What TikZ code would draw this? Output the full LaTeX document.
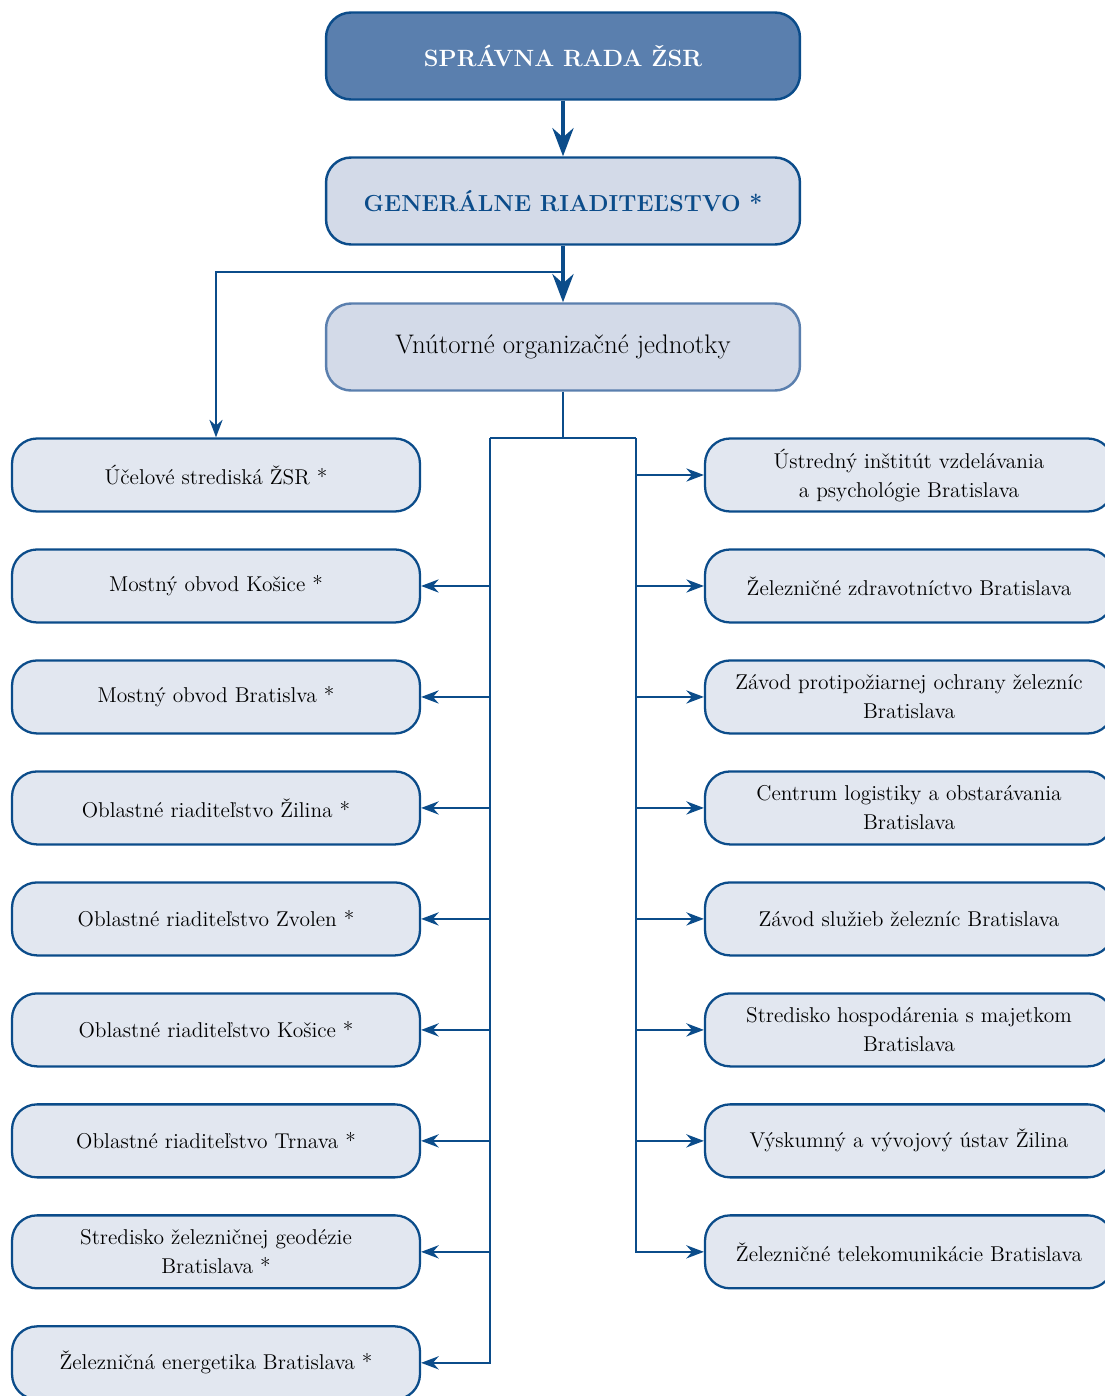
\documentclass[tikz,border=0pt]{standalone}
\usetikzlibrary{positioning,arrows.meta}

\definecolor{zsrDark}{HTML}{0B4C8A}
\definecolor{zsrMid}{HTML}{5A7FAE}
\definecolor{zsrPale}{HTML}{D3DAE8}
\definecolor{zsrLight}{HTML}{E2E7F0}

\tikzset{
  headBox/.style={draw=zsrDark, line width=1.4pt, rounded corners=0.5cm,
    minimum width=9.48cm, minimum height=1.74cm, align=center},
  unitBox/.style={draw=zsrDark, line width=1.3pt, fill=zsrLight, rounded corners=0.5cm,
    minimum width=8.16cm, minimum height=1.46cm, align=center,
    font=\fontsize{12.2}{16.5}\selectfont},
  thickArrow/.style={draw=zsrDark, line width=2.4pt, -{Stealth[length=16pt,width=12pt]}},
  thinLine/.style={draw=zsrDark, line width=1.2pt},
  thinArrow/.style={thinLine, -{Stealth[length=10pt,width=7.5pt]}},
}

\begin{document}
\begin{tikzpicture}[x=0.02cm, y=-0.02cm, node distance=2.22cm]
	\useasboundingbox (0,0) rectangle (1105,1396);

	% top of the structure
	\node[headBox, fill=zsrMid, text=white, font=\fontsize{13.4}{16}\selectfont\bfseries] (spravna) at (563,56) {SPRÁVNA RADA ŽSR};
	\node[headBox, fill=zsrPale, text=zsrDark, font=\fontsize{13.2}{16}\selectfont\bfseries] (generalne) at (563,201) {GENERÁLNE RIADITEĽSTVO *};
	\node[headBox, fill=zsrPale, draw=zsrMid, font=\fontsize{15.3}{18}\selectfont] (vnutorne) at (563,347) {Vnútorné organizačné jednotky};

	% left column
	\node[unitBox] (ucelove) at (216,475) {Účelové strediská ŽSR *};
	\node[unitBox, below of=ucelove] (mostyKosice) {Mostný obvod Košice *};
	\node[unitBox, below of=mostyKosice] (mostyBratislava) {Mostný obvod Bratislva *};
	\node[unitBox, below of=mostyBratislava] (orZilina) {Oblastné riaditeľstvo Žilina *};
	\node[unitBox, below of=orZilina] (orZvolen) {Oblastné riaditeľstvo Zvolen *};
	\node[unitBox, below of=orZvolen] (orKosice) {Oblastné riaditeľstvo Košice *};
	\node[unitBox, below of=orKosice] (orTrnava) {Oblastné riaditeľstvo Trnava *};
	\node[unitBox, below of=orTrnava] (geodezia) {Stredisko železničnej geodézie\\Bratislava *};
	\node[unitBox, below of=geodezia] (energetika) {Železničná energetika Bratislava *};

	% right column
	\node[unitBox] (ustav) at (909,475) {Ústredný inštitút vzdelávania\\a psychológie Bratislava};
	\node[unitBox, below of=ustav] (zdravotnictvo) {Železničné zdravotníctvo Bratislava};
	\node[unitBox, below of=zdravotnictvo] (pozarna) {Závod protipožiarnej ochrany železníc\\Bratislava};
	\node[unitBox, below of=pozarna] (logistika) {Centrum logistiky a obstarávania\\Bratislava};
	\node[unitBox, below of=logistika] (sluzby) {Závod služieb železníc Bratislava};
	\node[unitBox, below of=sluzby] (majetok) {Stredisko hospodárenia s majetkom\\Bratislava};
	\node[unitBox, below of=majetok] (vyskum) {Výskumný a vývojový ústav Žilina};
	\node[unitBox, below of=vyskum] (telekom) {Železničné telekomunikácie Bratislava};

	\draw[thickArrow] (spravna) -- (generalne);
	\draw[thickArrow] (generalne) -- (vnutorne);

	\coordinate (branch) at (563,272);
	\draw[thinArrow] (branch) -| (ucelove);

	% bus under the inner units
	\coordinate (busTop) at (563,438);
	\coordinate (busLeft) at (490,438);
	\coordinate (busRight) at (636,438);
	\draw[thinLine] (vnutorne) -- (busTop);
	\draw[thinLine] (busLeft) -- (busRight);
	\draw[thinArrow] (busLeft) |- (energetika);
	\draw[thinArrow] (busRight) |- (telekom);

	\foreach \unit in {mostyKosice,mostyBratislava,orZilina,orZvolen,orKosice,orTrnava,geodezia}
		\draw[thinArrow] (busLeft |- \unit) -- (\unit);
	\foreach \unit in {ustav,zdravotnictvo,pozarna,logistika,sluzby,majetok,vyskum}
		\draw[thinArrow] (busRight |- \unit) -- (\unit);
\end{tikzpicture}
\end{document}
